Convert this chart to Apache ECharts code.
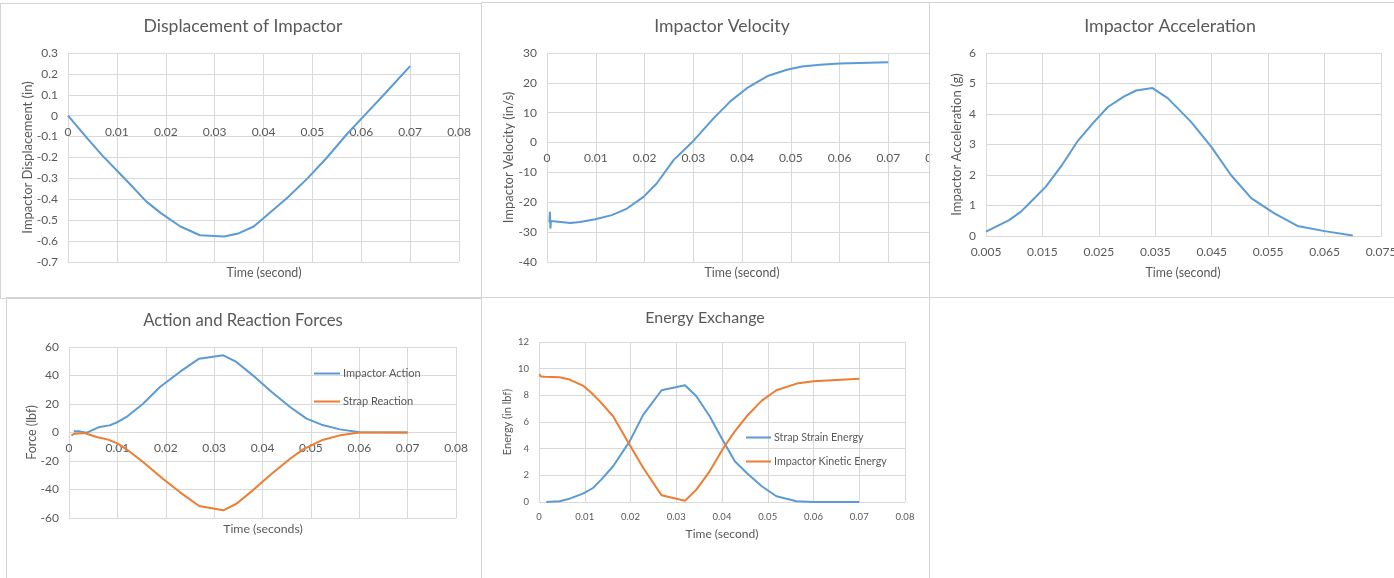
<!DOCTYPE html>
<html>
<head>
<meta charset="utf-8">
<script src="https://cdn.jsdelivr.net/npm/echarts@6/dist/echarts.min.js"></script>
<style>
  html, body { margin: 0; padding: 0; background: #fff; width: 1394px; height: 578px; overflow: hidden; }
  .panel { position: absolute; overflow: hidden; background: #fff; }
  .chart { position: absolute; left: 0; top: 0; }
  .frame { position: absolute; box-sizing: border-box; border: 1px solid #d4d4d4; pointer-events: none; }
</style>
</head>
<body>
<div class="panel" style="left:0;top:3px;width:481px;height:295px"><div id="c1" class="chart" style="width:481px;height:295px"></div></div>
<div class="panel" style="left:481px;top:2px;width:448px;height:295px"><div id="c2" class="chart" style="width:480px;height:295px"></div></div>
<div class="panel" style="left:929px;top:2px;width:465px;height:295px"><div id="c3" class="chart" style="width:500px;height:295px"></div></div>
<div class="panel" style="left:6px;top:297px;width:475px;height:281px"><div id="c4" class="chart" style="width:475px;height:281px"></div></div>
<div class="panel" style="left:481px;top:297px;width:448px;height:281px"><div id="c5" class="chart" style="width:448px;height:281px"></div></div>

<div class="frame" style="left:0;top:3px;width:482px;height:296px"></div>
<div class="frame" style="left:481px;top:2px;width:449px;height:296px"></div>
<div class="frame" style="left:929px;top:2px;width:470px;height:296px"></div>
<div class="frame" style="left:6px;top:297px;width:476px;height:290px"></div>
<div class="frame" style="left:481px;top:297px;width:449px;height:290px"></div>

<script>
// ---- Displacement of impactor (in) vs time (s)
const dispTime = [0, 0.002, 0.004, 0.007, 0.010, 0.013, 0.016, 0.019, 0.023, 0.027, 0.032, 0.035, 0.038, 0.041, 0.045, 0.049, 0.053, 0.057, 0.061, 0.065, 0.070];
const dispValue = [0, -0.055, -0.11, -0.19, -0.262, -0.335, -0.41, -0.466, -0.53, -0.572, -0.578, -0.562, -0.53, -0.47, -0.39, -0.30, -0.20, -0.09, 0.01, 0.11, 0.237];

// ---- Impactor velocity (in/s) vs time (s)
const velTime = [0.0005, 0.0006, 0.0007, 0.0008, 0.0012, 0.0048, 0.0068, 0.0099, 0.0133, 0.0164, 0.0198, 0.0225, 0.026, 0.0297, 0.0342, 0.0376, 0.041, 0.0454, 0.0492, 0.0523, 0.056, 0.060, 0.070];
const velValue = [-26.8, -23.2, -28.8, -26.3, -26.9, -26.9, -26.6, -25.7, -24.3, -22.1, -18.2, -13.7, -5.8, 0, 8.2, 13.8, 18.2, 22.4, 24.4, 25.5, 26.1, 26.5, 26.9];

// ---- Impactor acceleration (g) vs time (s)
const accTime = [0.005, 0.0091, 0.0112, 0.013, 0.0156, 0.0183, 0.0212, 0.0242, 0.0266, 0.0295, 0.0316, 0.0345, 0.0372, 0.0413, 0.0449, 0.0484, 0.052, 0.0561, 0.0602, 0.065, 0.070];
const accValue = [0.14, 0.52, 0.80, 1.13, 1.62, 2.28, 3.10, 3.75, 4.23, 4.58, 4.77, 4.85, 4.52, 3.75, 2.93, 2.00, 1.24, 0.74, 0.33, 0.16, 0.02];

// ---- Action and reaction forces (lbf) vs time (s)
const actionTime = [0.001, 0.0022, 0.0037, 0.0063, 0.0084, 0.0101, 0.0119, 0.0153, 0.0188, 0.0229, 0.0269, 0.0319, 0.0346, 0.038, 0.0419, 0.0457, 0.0491, 0.0522, 0.056, 0.0601, 0.070];
const actionValue = [0.8, 0.8, -0.1, 3.9, 5.0, 7.4, 10.9, 20.2, 31.9, 42.5, 51.8, 54.2, 49.5, 40.1, 28.4, 17.9, 9.7, 5.5, 2.2, 0.1, 0];
const reactionTime = [0.0005, 0.0012, 0.0032, 0.0057, 0.0081, 0.0101, 0.0119, 0.0153, 0.0194, 0.0229, 0.0269, 0.0319, 0.0346, 0.038, 0.0419, 0.0457, 0.0484, 0.0522, 0.056, 0.0601, 0.070];
const reactionValue = [-2.0, -0.8, -0.4, -3.2, -5.0, -7.8, -11.8, -20.7, -32.4, -41.8, -51.6, -54.6, -50.0, -40.6, -28.9, -18.4, -11.8, -5.5, -2.0, 0, 0];

// ---- Energy exchange (in lbf) vs time (s)
const strainTime = [0.0016, 0.0045, 0.0067, 0.0096, 0.0118, 0.0136, 0.0162, 0.0198, 0.0228, 0.0268, 0.0319, 0.0344, 0.0373, 0.0403, 0.0428, 0.0454, 0.0487, 0.0519, 0.0563, 0.060, 0.070];
const strainValue = [0, 0.05, 0.25, 0.63, 1.05, 1.68, 2.68, 4.55, 6.55, 8.38, 8.75, 7.93, 6.43, 4.55, 3.05, 2.18, 1.18, 0.43, 0.05, 0, 0];
const kineticTime = [0.0001, 0.0004, 0.0012, 0.0045, 0.0067, 0.0096, 0.0115, 0.0133, 0.0162, 0.0198, 0.0228, 0.0268, 0.0319, 0.0344, 0.0373, 0.0403, 0.0428, 0.0454, 0.0487, 0.0519, 0.0563, 0.060, 0.070];
const kineticValue = [9.58, 9.42, 9.40, 9.35, 9.18, 8.73, 8.18, 7.55, 6.43, 4.30, 2.55, 0.50, 0.10, 0.93, 2.30, 4.05, 5.30, 6.43, 7.60, 8.38, 8.88, 9.05, 9.25];

// ---- Tick settings
const timeTicks = { min: 0, max: 0.08, interval: 0.01 };
const accTicks = { min: 0.005, max: 0.075, interval: 0.01 };

const FONT = 'Lato, "Open Sans", sans-serif';
const TEXT = '#595959';
const GRIDLINE = '#d9d9d9';
const BLUE = '#5b9bd5';
const ORANGE = '#ed7d31';

const zip = (xs, ys) => xs.map((x, i) => [x, ys[i]]);

function lineSeries(name, xs, ys, color) {
  return {
    name, type: 'line', data: zip(xs, ys),
    showSymbol: false, symbol: 'none', smooth: false,
    lineStyle: { color, width: 2 }, itemStyle: { color },
    emphasis: { disabled: true }
  };
}

function xAxisOf(t, labelSize, fmt) {
  return {
    type: 'value', min: t.min, max: t.max, interval: t.interval,
    axisLine: { show: true, onZero: false, lineStyle: { color: GRIDLINE, width: 1 } },
    axisTick: { show: false },
    splitLine: { show: true, lineStyle: { color: GRIDLINE, width: 1 } },
    axisLabel: { color: TEXT, fontFamily: FONT, fontSize: labelSize, margin: 10, formatter: fmt, showMinLabel: true, showMaxLabel: true }
  };
}

function yAxisOf(min, max, interval, labelSize, name, nameSize, nameGap) {
  return {
    type: 'value', min, max, interval,
    axisLine: { show: false, onZero: false }, axisTick: { show: false },
    splitLine: { show: true, lineStyle: { color: GRIDLINE, width: 1 } },
    axisLabel: { color: TEXT, fontFamily: FONT, fontSize: labelSize, margin: 10 },
    name, nameLocation: 'middle', nameRotate: 90, nameGap, nameMoveOverlap: false,
    nameTextStyle: { color: TEXT, fontFamily: FONT, fontSize: nameSize }
  };
}

function titles(main, mx, my, mSize, sub, sx, sy, sSize) {
  return [
    { text: main, left: mx, top: my - mSize / 2, textAlign: 'center', padding: 0,
      textStyle: { color: TEXT, fontFamily: FONT, fontSize: mSize, fontWeight: 'normal' } },
    { text: sub, left: sx, top: sy - sSize / 2, textAlign: 'center', padding: 0,
      textStyle: { color: TEXT, fontFamily: FONT, fontSize: sSize, fontWeight: 'normal' } }
  ];
}

const fmtTime = v => String(+v.toFixed(3));

// Builds a chart; when crossAtZero is set, the time axis is moved up so it
// crosses the value axis at 0 (labels travel with it, as in a spreadsheet chart).
function make(id, option, crossAtZero) {
  const chart = echarts.init(document.getElementById(id), null, { renderer: 'canvas' });
  chart.setOption(Object.assign({ animation: false, backgroundColor: '#fff' }, option));
  if (crossAtZero) {
    const g = option.grid;
    const y0 = chart.convertToPixel({ yAxisIndex: 0 }, 0);
    chart.setOption({ xAxis: { offset: y0 - (g.top + g.height) } });
  }
}

// Displacement of Impactor
make('c1', {
  title: titles('Displacement of Impactor', 243, 23, 17.6, 'Time (second)', 264, 270, 12.4),
  grid: { left: 68, top: 50, width: 391, height: 209 },
  xAxis: xAxisOf(timeTicks, 12, fmtTime),
  yAxis: yAxisOf(-0.7, 0.3, 0.1, 12, 'Impactor Displacement (in)', 13, 34),
  series: [lineSeries('Displacement', dispTime, dispValue, BLUE)]
}, true);

// Impactor Velocity
make('c2', {
  title: titles('Impactor Velocity', 241, 24, 17.6, 'Time (second)', 261, 271, 12.4),
  grid: { left: 66, top: 51, width: 390, height: 209 },
  xAxis: xAxisOf(timeTicks, 12, fmtTime),
  yAxis: yAxisOf(-40, 30, 10, 12, 'Impactor Velocity (in/s)', 13, 32),
  series: [lineSeries('Velocity', velTime, velValue, BLUE)]
}, true);

// Impactor Acceleration
make('c3', {
  title: titles('Impactor Acceleration', 241, 24, 17.8, 'Time (second)', 254, 271, 12.4),
  grid: { left: 57, top: 51, width: 395, height: 183 },
  xAxis: xAxisOf(accTicks, 12, fmtTime),
  yAxis: yAxisOf(0, 6, 1, 12, 'Impactor Acceleration (g)', 13, 23),
  series: [lineSeries('Acceleration', accTime, accValue, BLUE)]
}, false);

// Action and Reaction Forces
make('c4', {
  title: titles('Action and Reaction Forces', 237, 23, 16.7, 'Time (seconds)', 257, 232, 12.3),
  grid: { left: 63, top: 50, width: 387, height: 171 },
  legend: {
    orient: 'vertical', left: 308, top: 71, padding: 0, itemWidth: 26, itemHeight: 2, itemGap: 17,
    icon: 'rect', textStyle: { color: TEXT, fontFamily: FONT, fontSize: 11, padding: [0, 0, 0, -2] },
    data: ['Impactor Action', 'Strap Reaction']
  },
  xAxis: xAxisOf(timeTicks, 12, fmtTime),
  yAxis: yAxisOf(-60, 60, 20, 12, 'Force (lbf)', 12.5, 31),
  series: [
    lineSeries('Impactor Action', actionTime, actionValue, BLUE),
    lineSeries('Strap Reaction', reactionTime, reactionValue, ORANGE)
  ]
}, true);

// Energy Exchange
make('c5', {
  title: titles('Energy Exchange', 224, 21, 16, 'Time (second)', 241, 237, 12),
  grid: { left: 58, top: 45, width: 366, height: 160 },
  legend: {
    orient: 'vertical', left: 265, top: 135, padding: 0, itemWidth: 25, itemHeight: 2, itemGap: 13,
    icon: 'rect', textStyle: { color: TEXT, fontFamily: FONT, fontSize: 10.7, padding: [0, 0, 0, -2] },
    data: ['Strap Strain Energy', 'Impactor Kinetic Energy']
  },
  xAxis: xAxisOf(timeTicks, 9.5, fmtTime),
  yAxis: yAxisOf(0, 12, 2, 9.5, 'Energy (in lbf)', 11, 26),
  series: [
    lineSeries('Strap Strain Energy', strainTime, strainValue, BLUE),
    lineSeries('Impactor Kinetic Energy', kineticTime, kineticValue, ORANGE)
  ]
}, false);
</script>
</body>
</html>
